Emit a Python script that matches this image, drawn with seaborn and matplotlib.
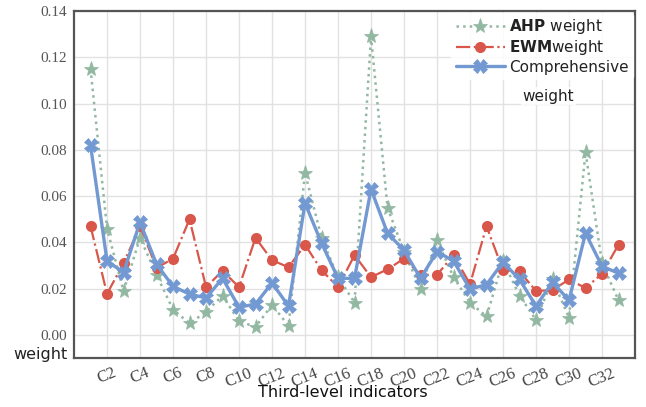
import numpy as np
import pandas as pd
import matplotlib
matplotlib.use("Agg")
import matplotlib.pyplot as plt
import seaborn as sns

indicators = ["C%d" % i for i in range(1, 34)]

ahp = [0.115, 0.046, 0.019, 0.042, 0.026, 0.011, 0.005, 0.010, 0.017, 0.006,
       0.0035, 0.013, 0.004, 0.070, 0.042, 0.025, 0.014, 0.129, 0.055, 0.036,
       0.020, 0.041, 0.025, 0.014, 0.008, 0.032, 0.017, 0.0065, 0.024, 0.0075,
       0.079, 0.031, 0.015]
ewm = [0.047, 0.0178, 0.031, 0.047, 0.029, 0.033, 0.050, 0.0207, 0.0277, 0.0207,
       0.042, 0.0323, 0.0293, 0.039, 0.028, 0.0207, 0.0345, 0.025, 0.0284, 0.033,
       0.026, 0.026, 0.0345, 0.022, 0.047, 0.028, 0.0275, 0.019, 0.0194, 0.024,
       0.0203, 0.0265, 0.039]
comp = [0.082, 0.032, 0.027, 0.0487, 0.0306, 0.021, 0.0177, 0.016, 0.0245, 0.012,
        0.0134, 0.0225, 0.0125, 0.057, 0.0397, 0.0245, 0.0245, 0.063, 0.044, 0.0366,
        0.0245, 0.036, 0.032, 0.0198, 0.0218, 0.0315, 0.024, 0.0125, 0.0228, 0.015,
        0.044, 0.0297, 0.0267]

df = pd.DataFrame({"pos": np.arange(1, len(indicators) + 1),
                   "ahp": ahp, "ewm": ewm, "comp": comp})

sns.set_style("white")
fig = plt.figure(figsize=(6.46, 4.07), dpi=100)
ax = fig.add_axes([0.1146, 0.120, 0.8684, 0.853])

sns.lineplot(data=df, x="pos", y="ahp", ax=ax, color="#92b8a2", linestyle=":",
             linewidth=1.8, marker="*", markersize=11, markeredgewidth=0.5,
             markeredgecolor="#92b8a2", label=r"$\bf{AHP}$ weight")
sns.lineplot(data=df, x="pos", y="ewm", ax=ax, color="#d9574a", linestyle="-.",
             linewidth=1.6, marker="o", markersize=8, markeredgewidth=0,
             label=r"$\bf{EWM}$weight")
sns.lineplot(data=df, x="pos", y="comp", ax=ax, color="#7399d2", linestyle="-",
             linewidth=2.4, marker="X", markersize=10, markeredgewidth=0.5,
             markeredgecolor="#7399d2", label="Comprehensive")

ax.set_xlim(0, 34)
ax.set_ylim(-0.01, 0.14)
ax.set_yticks(np.arange(0, 0.141, 0.02))
ax.set_yticklabels(["%.2f" % v for v in np.arange(0, 0.141, 0.02)],
                   family="Liberation Serif", fontsize=11, color="#555555")
even = list(range(2, 33, 2))
ax.set_xticks(even)
ax.set_xticklabels([indicators[i - 1] for i in even], family="Liberation Serif",
                   fontsize=12, color="#444444", rotation=22)
ax.tick_params(axis="both", length=3, width=1, color="#555555", pad=2)
ax.grid(True, color="#e2e2e2", linewidth=1)
ax.set_axisbelow(True)
for s in ax.spines.values():
    s.set_color("#555555")
    s.set_linewidth(1.6)
ax.set_xlabel("")
ax.set_ylabel("")

leg = ax.legend(loc="upper right", fontsize=11, frameon=True, framealpha=0.85,
                edgecolor="white", handlelength=3.2, borderaxespad=0.1,
                labelspacing=0.15, handletextpad=0.3, borderpad=0.3)
for t in leg.get_texts():
    t.set_color("#222222")
ax.text(0.80, 0.755, "weight", transform=ax.transAxes, fontsize=11,
        color="#222222", va="center", ha="left",
        bbox=dict(facecolor="white", edgecolor="none", alpha=0.85, pad=1))

fig.text(0.02, 0.128, "weight", fontsize=11.5, color="#222222", va="center")
fig.text(0.53, 0.035, "Third-level indicators", fontsize=11.5, color="#111111",
         ha="center", va="center")

fig.savefig("out.png", dpi=100)
